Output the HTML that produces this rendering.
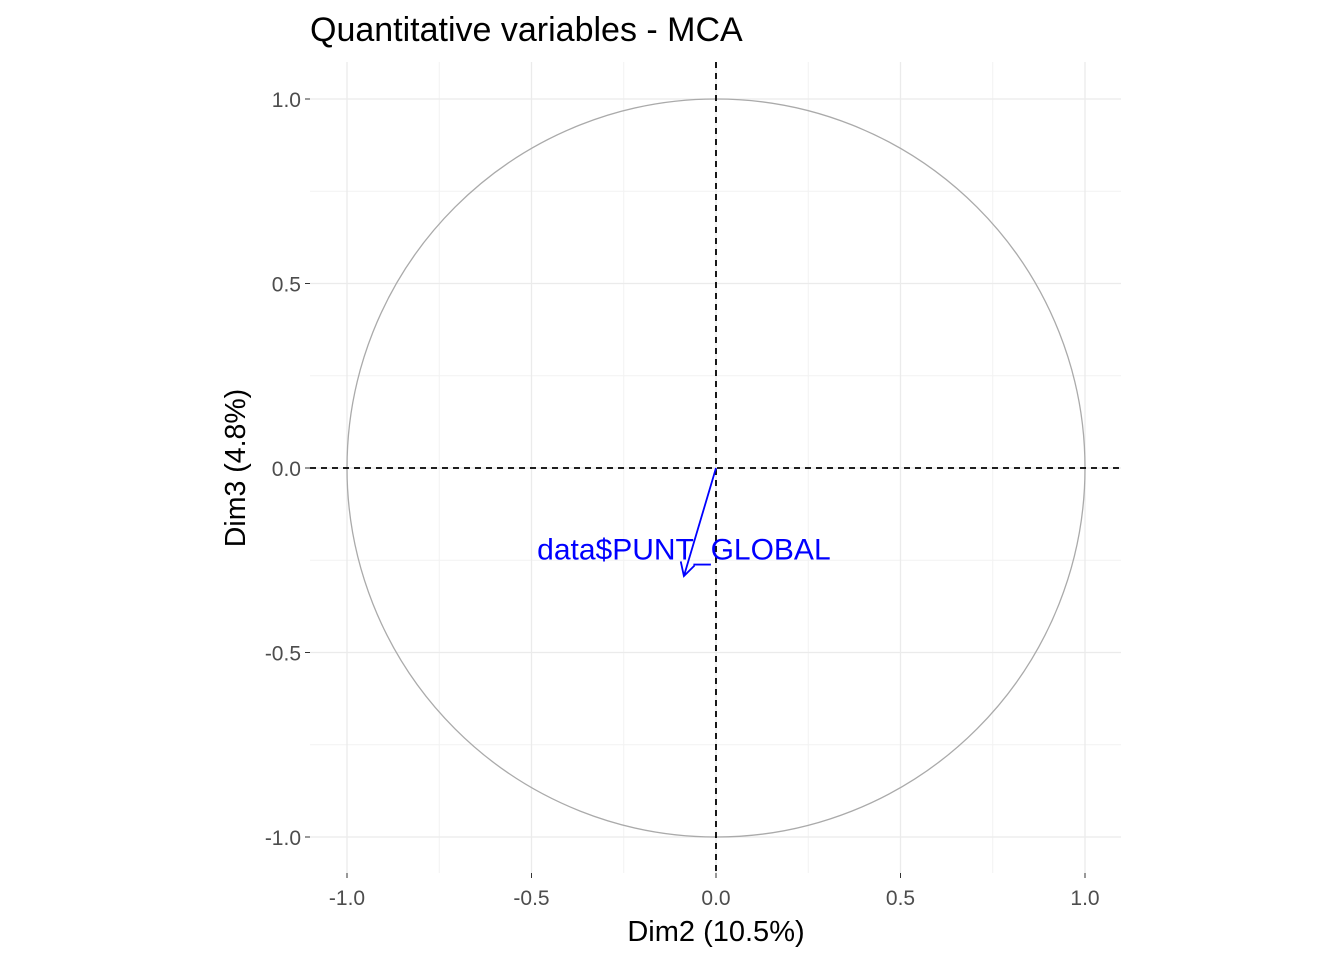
<!DOCTYPE html>
<html><head><meta charset="utf-8"><style>
body{margin:0;background:#fff;}
svg{display:block;font-family:"Liberation Sans",sans-serif;}
</style></head><body>
<svg id="chart" width="1344" height="960"></svg>
<script>
const xTicks=[-1,-0.5,0,0.5,1];
const yTicks=[-1,-0.5,0,0.5,1];
const tickLabels=["-1.0","-0.5","0.0","0.5","1.0"];
const varNames=["data$PUNT_GLOBAL"];
const varX=[-0.087];
const varY=[-0.293];
const labelY=[-0.24];
const NS="http://www.w3.org/2000/svg";
const svg=document.getElementById('chart');
const sx=v=>716+v*369, sy=v=>468-v*369;
function mk(t,a,p){const e=document.createElementNS(NS,t);for(const k in a)e.setAttribute(k,a[k]);(p||svg).appendChild(e);return e;}
const L=310,R=1121,T=62,B=873;
for(let v=-0.75;v<=0.76;v+=0.5){
 let e=mk('line',{x1:sx(v),x2:sx(v),y1:T,y2:B,stroke:'#f2f2f2','stroke-width':1});
 
 e=mk('line',{x1:L,x2:R,y1:sy(v),y2:sy(v),stroke:'#f2f2f2','stroke-width':1});
 
}
xTicks.forEach((v,i)=>{
 let e=mk('line',{x1:sx(v),x2:sx(v),y1:T,y2:B,stroke:'#ebebeb','stroke-width':1.3});
 
 e=mk('line',{x1:sx(v),x2:sx(v),y1:B,y2:B+5,stroke:'#333'});
 
 e=mk('text',{x:sx(v),y:905,'text-anchor':'middle','font-size':21,fill:'#4d4d4d'});e.textContent=tickLabels[i];
 
});
yTicks.forEach((v,i)=>{
 let e=mk('line',{x1:L,x2:R,y1:sy(v),y2:sy(v),stroke:'#ebebeb','stroke-width':1.3});
 
 e=mk('line',{x1:L-5,x2:L,y1:sy(v),y2:sy(v),stroke:'#333'});
 
 e=mk('text',{x:L-9,y:sy(v)+8,'text-anchor':'end','font-size':21,fill:'#4d4d4d'});e.textContent=tickLabels[i];
 
});
let c=mk('circle',{cx:sx(0),cy:sy(0),r:369,fill:'none',stroke:'#aaa','stroke-width':1.3});

let h=mk('line',{x1:L,x2:R,y1:sy(0),y2:sy(0),stroke:'#000','stroke-width':1.8,'stroke-dasharray':'6,5'});

let vl=mk('line',{x1:sx(0),x2:sx(0),y1:T,y2:B,stroke:'#000','stroke-width':1.8,'stroke-dasharray':'6,5'});

varNames.forEach((n,i)=>{
 const x=sx(varX[i]),y=sy(varY[i]),x0=sx(0),y0=sy(0);
 const ang=Math.atan2(y-y0,x-x0),len=15,sp=0.5;
 let a=mk('path',{d:`M${x0},${y0}L${x},${y}M${x-len*Math.cos(ang-sp)},${y-len*Math.sin(ang-sp)}L${x},${y}L${x-len*Math.cos(ang+sp)},${y-len*Math.sin(ang+sp)}`,stroke:'#0000ff','stroke-width':1.8,fill:'none'});
 
 let t=mk('text',{x:x,y:sy(labelY[i])+3,'text-anchor':'middle','font-size':30,fill:'#0000ff'});t.textContent=n;
 
});
let tt=mk('text',{x:310,y:41,'font-size':34,fill:'#000'});tt.textContent='Quantitative variables - MCA';

let xt=mk('text',{x:716,y:941,'text-anchor':'middle','font-size':29,fill:'#000'});xt.textContent='Dim2 (10.5%)';

let yt=mk('text',{x:0,y:0,'text-anchor':'middle','font-size':28.5,fill:'#000',transform:'translate(245,468) rotate(-90)'});yt.textContent='Dim3 (4.8%)';

</script>
</body></html>
